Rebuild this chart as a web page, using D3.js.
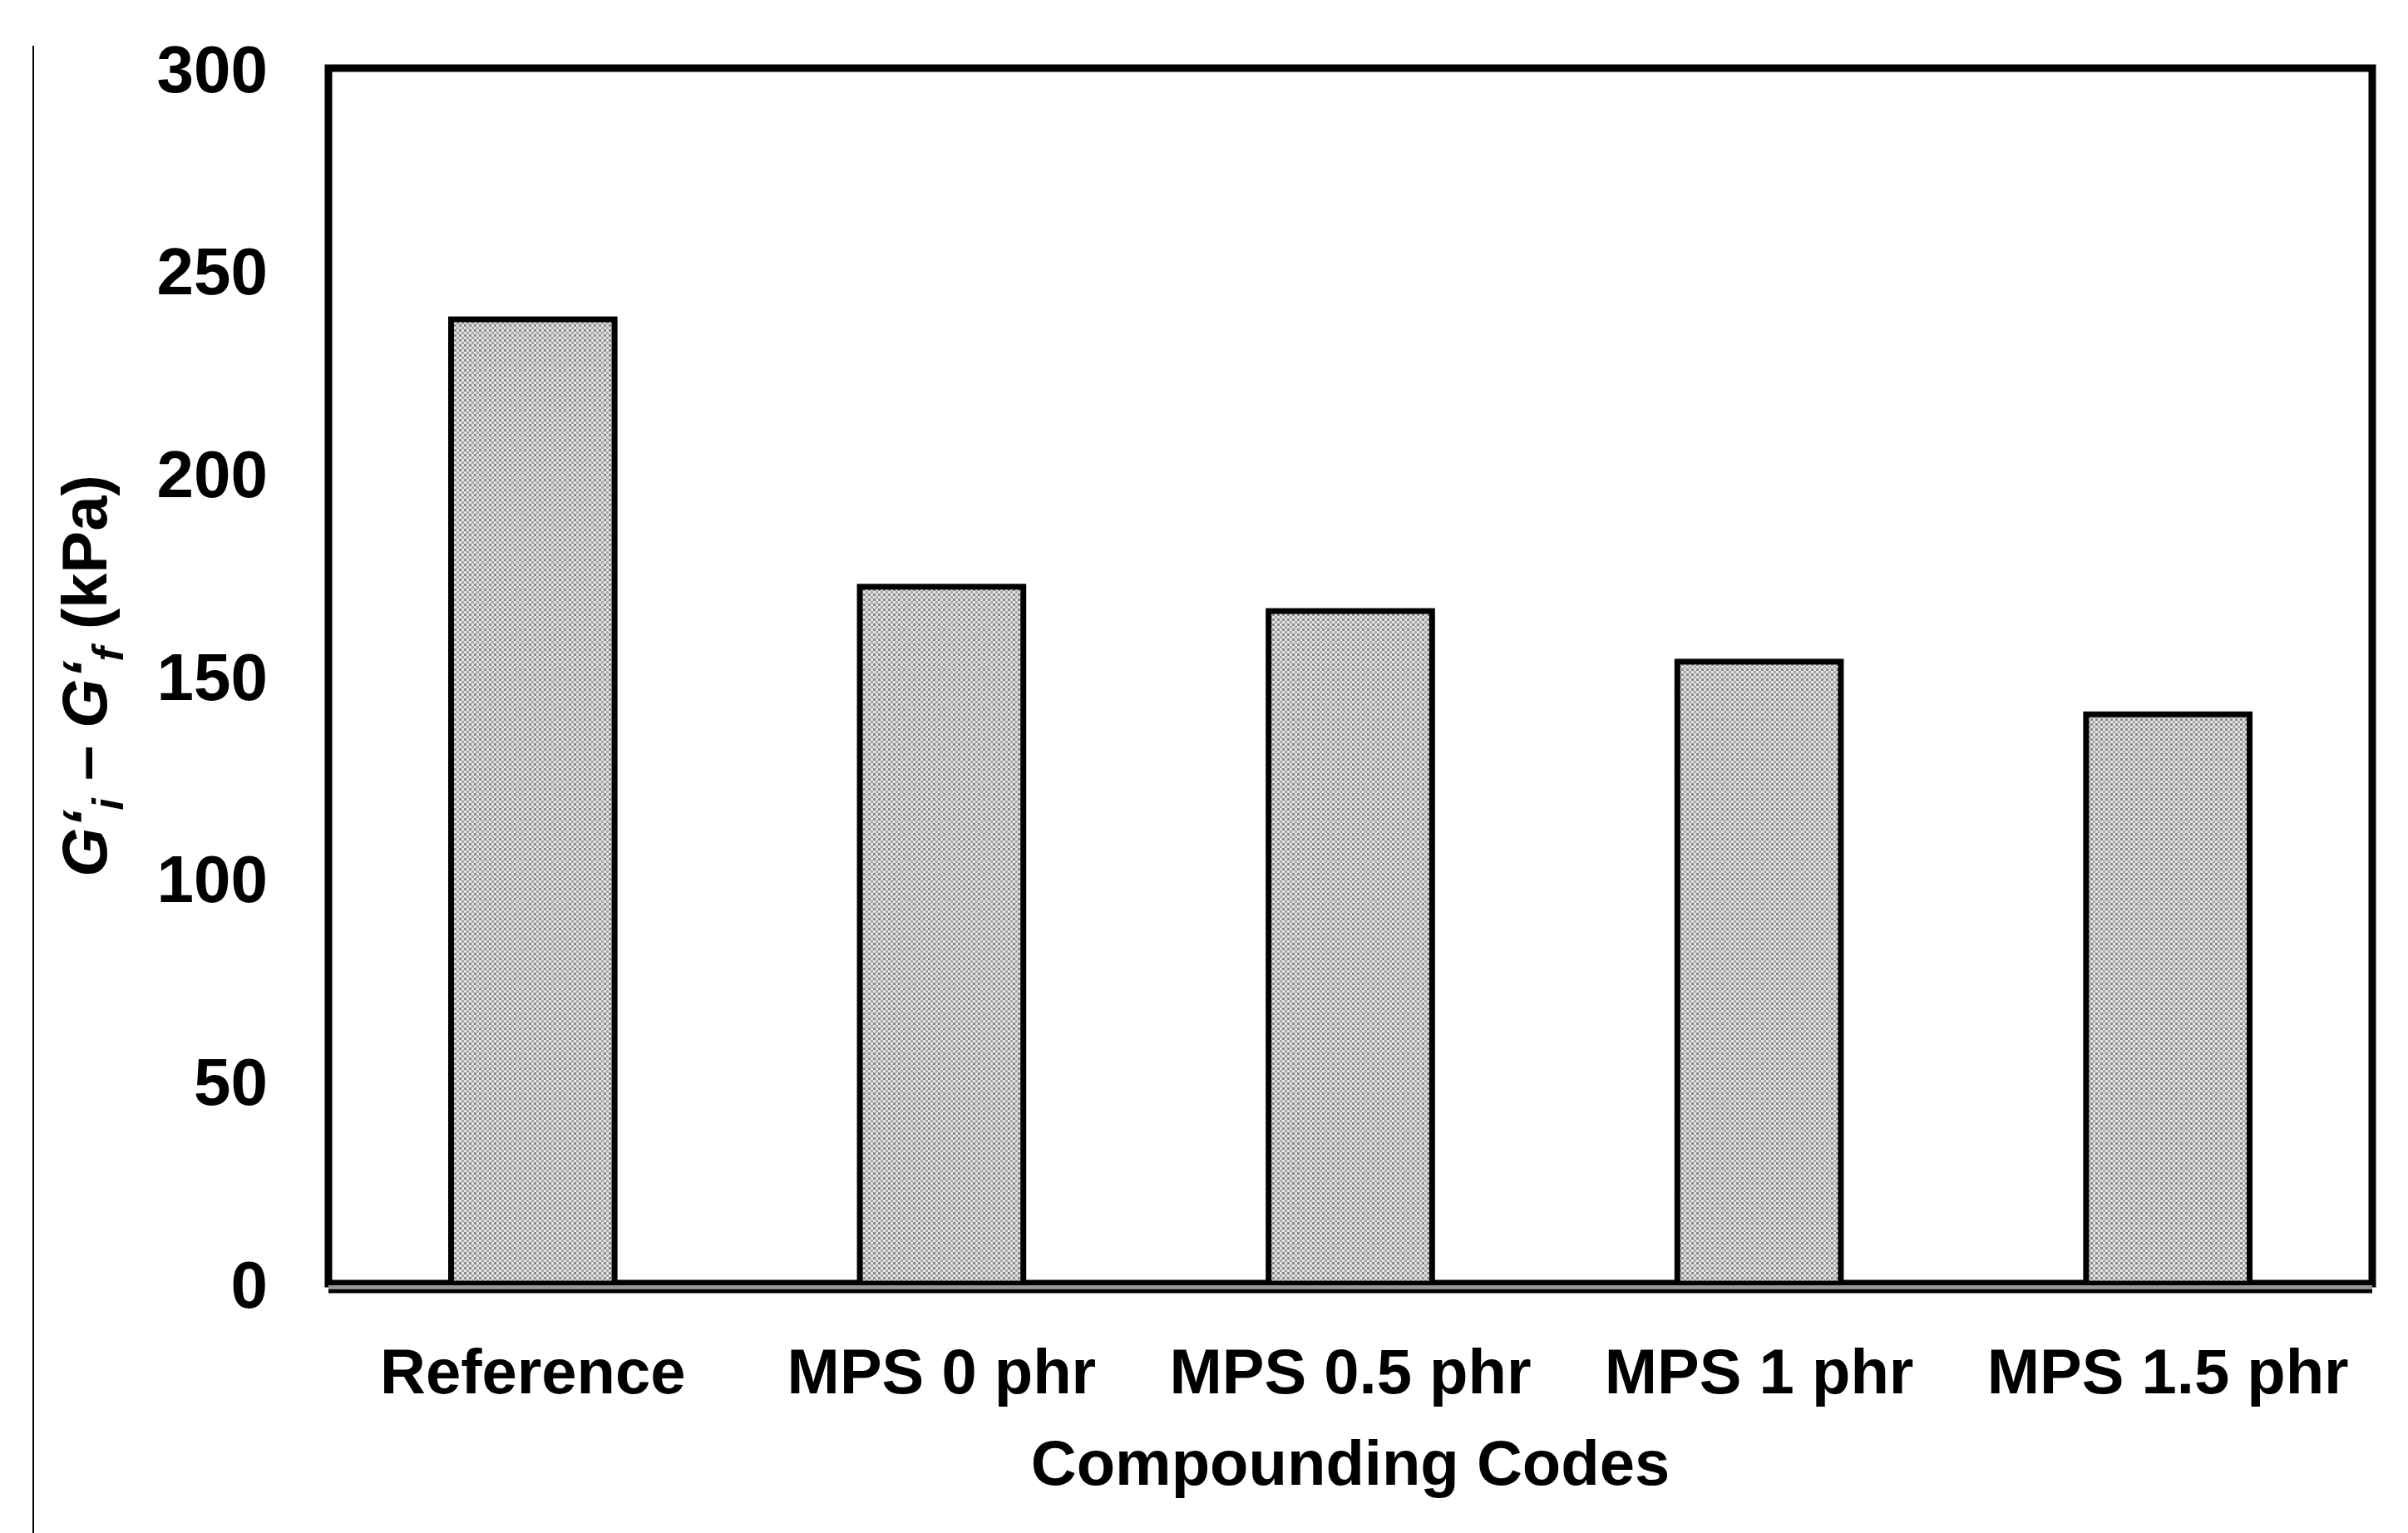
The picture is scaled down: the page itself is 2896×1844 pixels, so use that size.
<!DOCTYPE html>
<html><head><meta charset="utf-8">
<script src="https://cdn.jsdelivr.net/npm/d3@7"></script>
<style>body{margin:0;background:#fff}svg{display:block}</style>
</head><body><div></div>
<script>
const categories = ["Reference", "MPS 0 phr", "MPS 0.5 phr", "MPS 1 phr", "MPS 1.5 phr"];
const values = [238, 172, 166, 153.5, 140.5];
const yTicks = [0, 50, 100, 150, 200, 250, 300];

const width = 2896, height = 1844;
const m = {left: 395, right: 2853, top: 82, bottom: 1544};
const font = "Liberation Sans, Arial, sans-serif";

const svg = d3.select("div").append("svg").attr("width", width).attr("height", height);

const defs = svg.append("defs");
const pat = defs.append("pattern").attr("id", "dots").attr("patternUnits", "userSpaceOnUse")
  .attr("width", 6).attr("height", 6);
pat.append("rect").attr("width", 6).attr("height", 6).attr("fill", "#e4e4e4");
pat.append("rect").attr("width", 3).attr("height", 3).attr("fill", "#8a8a8a");
pat.append("rect").attr("x", 3).attr("y", 3).attr("width", 3).attr("height", 3).attr("fill", "#a8a8a8");

const x = d3.scaleBand().domain(categories).range([m.left, m.right]).paddingInner(0.6).paddingOuter(0.3);
const y = d3.scaleLinear().domain([0, 300]).range([m.bottom, m.top]);

// thin left frame line
svg.append("line").attr("x1", 40).attr("x2", 40).attr("y1", 55).attr("y2", 1844)
  .attr("stroke", "#000").attr("stroke-width", 2);

// plot frame
svg.append("rect").attr("x", m.left).attr("y", m.top)
  .attr("width", m.right - m.left).attr("height", m.bottom - m.top)
  .attr("fill", "none").attr("stroke", "#000").attr("stroke-width", 9);

svg.selectAll("rect.bar").data(values).enter().append("rect").attr("class", "bar")
  .attr("x", (d, i) => x(categories[i]))
  .attr("y", d => y(d))
  .attr("width", x.bandwidth())
  .attr("height", d => y(0) - y(d))
  .attr("fill", "url(#dots)").attr("stroke", "#000").attr("stroke-width", 7);

// double baseline
svg.append("line").attr("x1", m.left).attr("x2", m.right).attr("y1", y(0) + 4).attr("y2", y(0) + 4)
  .attr("stroke", "#999").attr("stroke-width", 4);
svg.append("line").attr("x1", m.left).attr("x2", m.right).attr("y1", y(0) + 9).attr("y2", y(0) + 9)
  .attr("stroke", "#000").attr("stroke-width", 5);

svg.selectAll("text.ytick").data(yTicks).enter().append("text").attr("class", "ytick")
  .attr("x", 322).attr("y", d => y(d)).attr("dy", "0.36em")
  .attr("text-anchor", "end").attr("font-family", font).attr("font-weight", "bold")
  .attr("font-size", 80).text(d => d);

svg.selectAll("text.xtick").data(categories).enter().append("text").attr("class", "xtick")
  .attr("x", d => x(d) + x.bandwidth() / 2).attr("y", 1676)
  .attr("text-anchor", "middle").attr("font-family", font).attr("font-weight", "bold")
  .attr("font-size", 76).text(d => d);

svg.append("text").attr("x", (m.left + m.right) / 2).attr("y", 1786)
  .attr("text-anchor", "middle").attr("font-family", font).attr("font-weight", "bold")
  .attr("font-size", 76).text("Compounding Codes");

const yl = svg.append("text").attr("transform", "translate(128," + ((m.top + m.bottom) / 2) + ") rotate(-90)")
  .attr("text-anchor", "middle").attr("font-family", font).attr("font-weight", "bold").attr("font-size", 76);
yl.append("tspan").attr("font-style", "italic").text("G‘");
yl.append("tspan").attr("font-style", "italic").attr("font-size", 52).attr("dy", 20).text("i");
yl.append("tspan").attr("dy", -20).text(" – ");
yl.append("tspan").attr("font-style", "italic").text("G‘");
yl.append("tspan").attr("font-style", "italic").attr("font-size", 52).attr("dy", 20).text("f");
yl.append("tspan").attr("dy", -20).text(" (kPa)");
</script></body></html>
